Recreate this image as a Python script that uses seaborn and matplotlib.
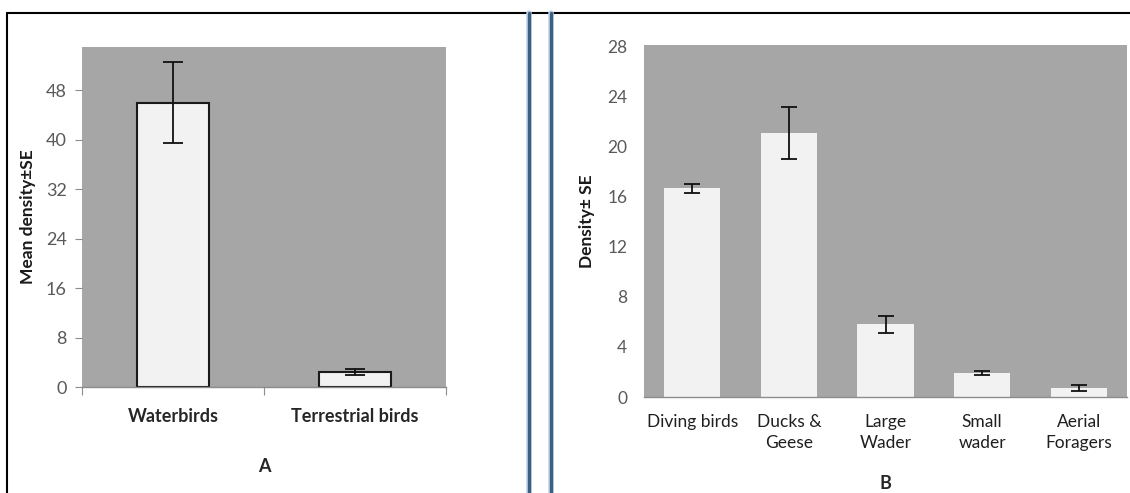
import matplotlib
matplotlib.use("Agg")
import matplotlib.pyplot as plt
import seaborn as sns
import pandas as pd
from matplotlib.lines import Line2D

# ---- data ----
groups_a = ["Waterbirds", "Terrestrial birds"]
density_a = [46.0, 2.4]
se_a = [6.6, 0.5]

groups_b = ["Diving birds", "Ducks &\nGeese", "Large\nWader", "Small\nwader", "Aerial\nForagers"]
density_b = [16.7, 21.1, 5.8, 1.9, 0.7]
se_b = [0.35, 2.1, 0.7, 0.15, 0.23]

yticks_a = [0, 8, 16, 24, 32, 40, 48]
yticks_b = [0, 4, 8, 12, 16, 20, 24, 28]

sns.set_theme(style="white")
plt.rcParams["font.family"] = ["Lato", "DejaVu Sans"]

BG = "#A6A6A6"
BAR = "#F2F2F2"
TICKC = "#595959"

fig = plt.figure(figsize=(11.3, 4.93), dpi=100)
fig.patch.set_facecolor("white")

axA = fig.add_axes([82/1130, 1-387/493, (446-82)/1130, (387-47)/493])
axB = fig.add_axes([644/1130, 1-397/493, (1127-644)/1130, (397-45)/493])

dfa = pd.DataFrame({"group": groups_a, "density": density_a})
dfb = pd.DataFrame({"group": groups_b, "density": density_b})

sns.barplot(data=dfa, x="group", y="density", ax=axA, color=BAR, saturation=1,
            edgecolor="#1a1a1a", linewidth=1.5, width=0.4, errorbar=None)
axA.errorbar(x=list(range(len(groups_a))), y=density_a, yerr=se_a, fmt="none",
             ecolor="#111111", elinewidth=1.3, capsize=7, capthick=1.3)

sns.barplot(data=dfb, x="group", y="density", ax=axB, color=BAR, saturation=1,
            linewidth=0, width=0.58, errorbar=None)
axB.errorbar(x=list(range(len(groups_b))), y=density_b, yerr=se_b, fmt="none",
             ecolor="#111111", elinewidth=1.3, capsize=6, capthick=1.3)

for ax in (axA, axB):
    ax.set_facecolor(BG)
    for s in ("top", "right", "left"):
        ax.spines[s].set_visible(False)
    ax.spines["bottom"].set_color("#8c8c8c")
    ax.spines["bottom"].set_linewidth(1.0)
    ax.set_xlabel("")

# Panel A
axA.set_ylim(0, 55)
axA.set_yticks(yticks_a)
axA.set_yticklabels([str(v) for v in yticks_a], color=TICKC, fontsize=13)
axA.tick_params(axis="y", left=True, length=5, width=0.8, color="#8c8c8c", pad=6)
axA.set_xticks(range(len(groups_a)))
axA.set_xticklabels(groups_a, fontsize=13, fontweight="bold", color="#262626")
axA.set_xticks([-0.5, 0.5, 1.5], minor=True)
axA.tick_params(axis="x", which="major", length=0, pad=15)
axA.tick_params(axis="x", which="minor", bottom=True, length=6, width=0.8, color="#8c8c8c")
axA.set_xlim(-0.5, 1.5)
axA.set_ylabel("Mean density±SE", fontsize=12.5, fontweight="bold", color="#1a1a1a", labelpad=7)
axA.text(0.5, -0.235, "A", transform=axA.transAxes, ha="center", va="center",
         fontsize=13, fontweight="bold", color="#262626")

# Panel B
axB.set_ylim(0, 28.15)
axB.set_yticks(yticks_b)
axB.set_yticklabels([str(v) for v in yticks_b], color=TICKC, fontsize=12.5)
axB.tick_params(axis="y", left=False, length=0, pad=12)
axB.set_xticks(range(len(groups_b)))
axB.set_xticklabels(groups_b, fontsize=12.5, color="#1f1f1f", linespacing=1.4)
axB.tick_params(axis="x", length=0, pad=12)
axB.set_xlim(-0.5, len(groups_b) - 0.5)
axB.set_ylabel("Density± SE", fontsize=12.5, fontweight="bold", color="#1a1a1a", labelpad=9)
axB.text(0.5, -0.245, "B", transform=axB.transAxes, ha="center", va="center",
         fontsize=13, fontweight="bold", color="#262626")

# decorative frame lines
W, H = 1130, 493
fig.add_artist(Line2D([7/W, 1], [1-13/H, 1-13/H], color="black", lw=1.5, transform=fig.transFigure))
fig.add_artist(Line2D([7/W, 7/W], [0, 1-13/H], color="black", lw=1.5, transform=fig.transFigure))
for xp in (529, 551):
    fig.add_artist(Line2D([xp/W, xp/W], [0, 1-13/H], color="#bcd3ea", lw=4.0, transform=fig.transFigure))
    fig.add_artist(Line2D([xp/W, xp/W], [0, 1-13/H], color="#3f5f80", lw=2.4, transform=fig.transFigure))

fig.savefig("out.png", dpi=100, facecolor="white")
